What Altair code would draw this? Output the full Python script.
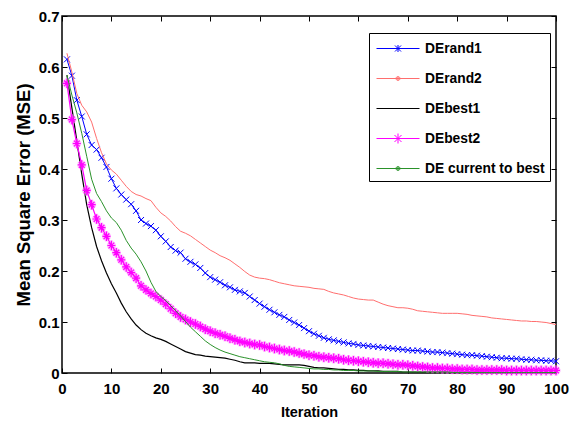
import altair as alt
import pandas as pd

# ---- data -------------------------------------------------------------
iterations = list(range(1, 101))

de_rand1 = [
    0.615, 0.583, 0.535, 0.503, 0.468, 0.447, 0.438, 0.422, 0.404, 0.381,
    0.362, 0.350, 0.340, 0.331, 0.318, 0.300, 0.293, 0.288, 0.280, 0.268,
    0.258, 0.247, 0.240, 0.236, 0.224, 0.218, 0.213, 0.206, 0.196, 0.188,
    0.183, 0.178, 0.172, 0.168, 0.163, 0.160, 0.157, 0.150, 0.143, 0.136,
    0.130, 0.124, 0.119, 0.114, 0.110, 0.104, 0.099, 0.094, 0.088, 0.082,
    0.077, 0.073, 0.069, 0.066, 0.064, 0.062, 0.060, 0.058, 0.057, 0.055,
    0.054, 0.053, 0.052, 0.051, 0.050, 0.049, 0.048, 0.047, 0.046, 0.045,
    0.044, 0.044, 0.043, 0.042, 0.041, 0.041, 0.040, 0.039, 0.038, 0.037,
    0.036, 0.035, 0.035, 0.034, 0.033, 0.032, 0.031, 0.030, 0.029, 0.029,
    0.028, 0.028, 0.027, 0.026, 0.026, 0.025, 0.025, 0.024, 0.024, 0.023,
]

de_rand2 = [
    0.627, 0.590, 0.548, 0.525, 0.512, 0.492, 0.460, 0.432, 0.410, 0.398,
    0.390, 0.378, 0.366, 0.356, 0.350, 0.347, 0.342, 0.338, 0.325, 0.314,
    0.307, 0.298, 0.287, 0.278, 0.274, 0.269, 0.262, 0.255, 0.248, 0.241,
    0.236, 0.230, 0.226, 0.221, 0.214, 0.207, 0.199, 0.192, 0.188, 0.186,
    0.185, 0.183, 0.180, 0.177, 0.175, 0.173, 0.171, 0.170, 0.169, 0.168,
    0.166, 0.165, 0.164, 0.160, 0.157, 0.155, 0.153, 0.150, 0.147, 0.145,
    0.144, 0.143, 0.143, 0.139, 0.135, 0.132, 0.130, 0.128, 0.128, 0.127,
    0.125, 0.122, 0.121, 0.120, 0.119, 0.118, 0.117, 0.117, 0.117, 0.117,
    0.116, 0.115, 0.113, 0.112, 0.111, 0.110, 0.108, 0.107, 0.106, 0.105,
    0.104, 0.103, 0.102, 0.102, 0.101, 0.101, 0.100, 0.099, 0.097, 0.095,
]

de_best1 = [
    0.584, 0.520, 0.455, 0.390, 0.330, 0.285, 0.248, 0.220, 0.196, 0.175,
    0.157, 0.137, 0.120, 0.106, 0.094, 0.085, 0.078, 0.073, 0.069, 0.066,
    0.062, 0.057, 0.052, 0.047, 0.042, 0.039, 0.036, 0.035, 0.033, 0.032,
    0.031, 0.030, 0.029, 0.027, 0.025, 0.022, 0.020, 0.020, 0.020, 0.019,
    0.019, 0.019, 0.018, 0.017, 0.016, 0.016, 0.016, 0.016, 0.015, 0.013,
    0.011, 0.010, 0.010, 0.009, 0.008, 0.007, 0.007, 0.006, 0.006, 0.005,
    0.005, 0.004, 0.004, 0.004, 0.003, 0.003, 0.003, 0.003, 0.002, 0.002,
    0.002, 0.002, 0.002, 0.002, 0.002, 0.002, 0.002, 0.002, 0.002, 0.002,
    0.002, 0.002, 0.002, 0.002, 0.002, 0.001, 0.001, 0.001, 0.001, 0.001,
    0.001, 0.001, 0.001, 0.001, 0.001, 0.001, 0.001, 0.001, 0.001, 0.001,
]

de_best2 = [
    0.568, 0.497, 0.450, 0.408, 0.358, 0.330, 0.302, 0.285, 0.268, 0.250,
    0.236, 0.222, 0.208, 0.197, 0.186, 0.171, 0.163, 0.156, 0.150, 0.143,
    0.135, 0.126, 0.117, 0.110, 0.105, 0.100, 0.096, 0.091, 0.086, 0.082,
    0.078, 0.075, 0.072, 0.068, 0.065, 0.062, 0.060, 0.058, 0.056, 0.055,
    0.052, 0.050, 0.048, 0.046, 0.044, 0.043, 0.041, 0.039, 0.037, 0.035,
    0.034, 0.032, 0.031, 0.030, 0.029, 0.028, 0.026, 0.025, 0.024, 0.023,
    0.022, 0.021, 0.020, 0.019, 0.019, 0.018, 0.017, 0.016, 0.016, 0.015,
    0.014, 0.013, 0.012, 0.011, 0.010, 0.010, 0.009, 0.009, 0.008, 0.008,
    0.007, 0.007, 0.007, 0.006, 0.006, 0.006, 0.006, 0.006, 0.006, 0.005,
    0.005, 0.005, 0.005, 0.005, 0.005, 0.005, 0.005, 0.005, 0.005, 0.005,
]

de_current_to_best = [
    0.584, 0.545, 0.510, 0.470, 0.425, 0.380, 0.352, 0.336, 0.318, 0.304,
    0.295, 0.280, 0.260, 0.245, 0.233, 0.218, 0.200, 0.178, 0.160, 0.150,
    0.142, 0.132, 0.122, 0.112, 0.101, 0.090, 0.081, 0.072, 0.063, 0.056,
    0.050, 0.045, 0.041, 0.038, 0.035, 0.032, 0.030, 0.028, 0.026, 0.024,
    0.022, 0.021, 0.020, 0.018, 0.015, 0.013, 0.012, 0.011, 0.010, 0.009,
    0.008, 0.008, 0.007, 0.007, 0.006, 0.006, 0.005, 0.005, 0.005, 0.004,
    0.004, 0.004, 0.004, 0.003, 0.003, 0.003, 0.003, 0.003, 0.002, 0.002,
    0.002, 0.002, 0.002, 0.002, 0.002, 0.002, 0.002, 0.002, 0.001, 0.001,
    0.001, 0.001, 0.001, 0.001, 0.001, 0.001, 0.001, 0.001, 0.001, 0.001,
    0.001, 0.001, 0.001, 0.001, 0.001, 0.001, 0.001, 0.001, 0.001, 0.001,
]

series_names = ["DErand1", "DErand2", "DEbest1", "DEbest2", "DE current to best"]
series_values = [de_rand1, de_rand2, de_best1, de_best2, de_current_to_best]
series_colors = ["#0000ff", "#ff6e6e", "#000000", "#ff00ff", "#2a922a"]
line_widths = [1.0, 1.0, 1.2, 1.2, 1.0]

x_ticks = [0, 10, 20, 30, 40, 50, 60, 70, 80, 90, 100]
y_ticks = [0, 0.1, 0.2, 0.3, 0.4, 0.5, 0.6, 0.7]

df = pd.concat(
    [pd.DataFrame({"iteration": iterations, "mse": v, "series": n})
     for n, v in zip(series_names, series_values)],
    ignore_index=True,
)

# ---- styling helpers --------------------------------------------------
FONT = "Liberation Sans, Arial, sans-serif"

xs = alt.Scale(domain=[0, 100], nice=False, zero=False)
ys = alt.Scale(domain=[0, 0.7], nice=False)

# ticks drawn inward: the axis is pulled 5px inside the frame and its
# outward ticks reach back to the frame line
tick_common = dict(
    offset=-5, tickSize=5, tickColor="black", tickWidth=1,
    domain=False, grid=False,
)

bottom_axis = alt.Axis(
    orient="bottom", values=x_ticks, format="d", labelFont=FONT,
    labelFontSize=15, labelFontWeight="bold", labelColor="black",
    labelPadding=8, labelFlush=False, labelOverlap=False,
    title="Iteration", titleFont=FONT, titleFontSize=14.5,
    titleFontWeight="bold", titleColor="black", titlePadding=9,
    **tick_common,
)
left_axis = alt.Axis(
    orient="left", values=y_ticks, format=".1~f", labelFont=FONT,
    labelFontSize=15, labelFontWeight="bold", labelColor="black",
    labelPadding=3, labelFlush=False, labelOverlap=False,
    title="Mean Square Error (MSE)", titleFont=FONT, titleFontSize=18.5,
    titleFontWeight="bold", titleColor="black",
    titleX=-44, titleY=178.5, titleBaseline="middle", titleAlign="center",
    titleAngle=270,
    **tick_common,
)
top_axis = alt.Axis(orient="top", values=x_ticks, labels=False, title=None,
                    **tick_common)
right_axis = alt.Axis(orient="right", values=y_ticks, labels=False, title=None,
                      **tick_common)

X_MARK = "M-1,-1L1,1M-1,1L1,-1"
STAR_MARK = "M0,-1V1M-0.85,0H0.85M-0.6,-0.6L0.6,0.6M-0.6,0.6L0.6,-0.6"

layers = []
for i, (name, color, lw) in enumerate(zip(series_names, series_colors, line_widths)):
    sub = df[df.series == name]
    if i == 0:
        enc_x = alt.X("iteration:Q", scale=xs, axis=bottom_axis)
        enc_y = alt.Y("mse:Q", scale=ys, axis=left_axis)
    elif i == 2:
        enc_x = alt.X("iteration:Q", scale=xs, axis=top_axis)
        enc_y = alt.Y("mse:Q", scale=ys, axis=right_axis)
    else:
        enc_x = alt.X("iteration:Q", scale=xs, axis=None)
        enc_y = alt.Y("mse:Q", scale=ys, axis=None)
    base = alt.Chart(sub)
    plain_x = alt.X("iteration:Q", scale=xs, axis=None)
    plain_y = alt.Y("mse:Q", scale=ys, axis=None)
    if name == "DEbest2":
        layers.append(base.mark_point(shape=STAR_MARK, size=110, filled=False,
                                      strokeWidth=3, color="#ff88ff", opacity=0.55)
                      .encode(x=plain_x, y=plain_y))
    layers.append(base.mark_line(color=color, strokeWidth=lw).encode(x=enc_x, y=enc_y))
    if name == "DErand1":
        layers.append(base.mark_point(shape=X_MARK, size=36, filled=False,
                                      strokeWidth=1, color=color, opacity=1)
                      .encode(x=plain_x, y=plain_y))
    if name == "DEbest2":
        layers.append(base.mark_point(shape=STAR_MARK, size=90, filled=False,
                                      strokeWidth=1.2, color=color, opacity=1)
                      .encode(x=plain_x, y=plain_y))

# ---- legend: line sample with marker, drawn by the legend itself --------
LINE = "M-0.8,0H3.5"
DOT = ("M1.55,0A0.2,0.2 0 1,0 1.15,0A0.2,0.2 0 1,0 1.55,0"
       "M1.45,0A0.1,0.1 0 1,0 1.25,0A0.1,0.1 0 1,0 1.45,0")
legend_paths = [
    LINE + "M1.05,-0.3L1.65,0.3M1.05,0.3L1.65,-0.3M1.35,-0.35V0.35",
    LINE + DOT,
    LINE,
    LINE + "M1.35,-0.5V0.5M1.0,-0.35L1.7,0.35M1.0,0.35L1.7,-0.35",
    LINE + DOT,
]

legend_spec = alt.Legend(
    title=None, orient="none", legendX=307, legendY=17,
    padding=5, strokeColor="black", fillColor="white", cornerRadius=0,
    symbolSize=400, symbolStrokeWidth=1, symbolFillColor="transparent",
    rowPadding=12, labelOffset=30, labelFont=FONT, labelFontSize=13.8,
    labelFontWeight="bold", labelColor="black", labelLimit=300,
)

legend_df = pd.DataFrame({"series": series_names})
legend_layer = (
    alt.Chart(legend_df)
    .transform_filter("false")
    .mark_point(filled=False, opacity=1)
    .encode(
        color=alt.Color("series:N",
                        scale=alt.Scale(domain=series_names, range=series_colors),
                        sort=series_names, legend=legend_spec),
        shape=alt.Shape("series:N",
                        scale=alt.Scale(domain=series_names, range=legend_paths),
                        sort=series_names, legend=legend_spec),
    )
)

chart = (
    alt.layer(*layers, legend_layer)
    .resolve_axis(x="independent", y="independent")
    .properties(
        width=494, height=357,
        autosize=alt.AutoSizeParams(type="none"),
        padding={"left": 62, "top": 16, "right": 17, "bottom": 55},
        background="white",
    )
    .configure_view(stroke="black", strokeWidth=1.5)
)

chart.save("out.html", embed_options={"renderer": "svg", "actions": False})
